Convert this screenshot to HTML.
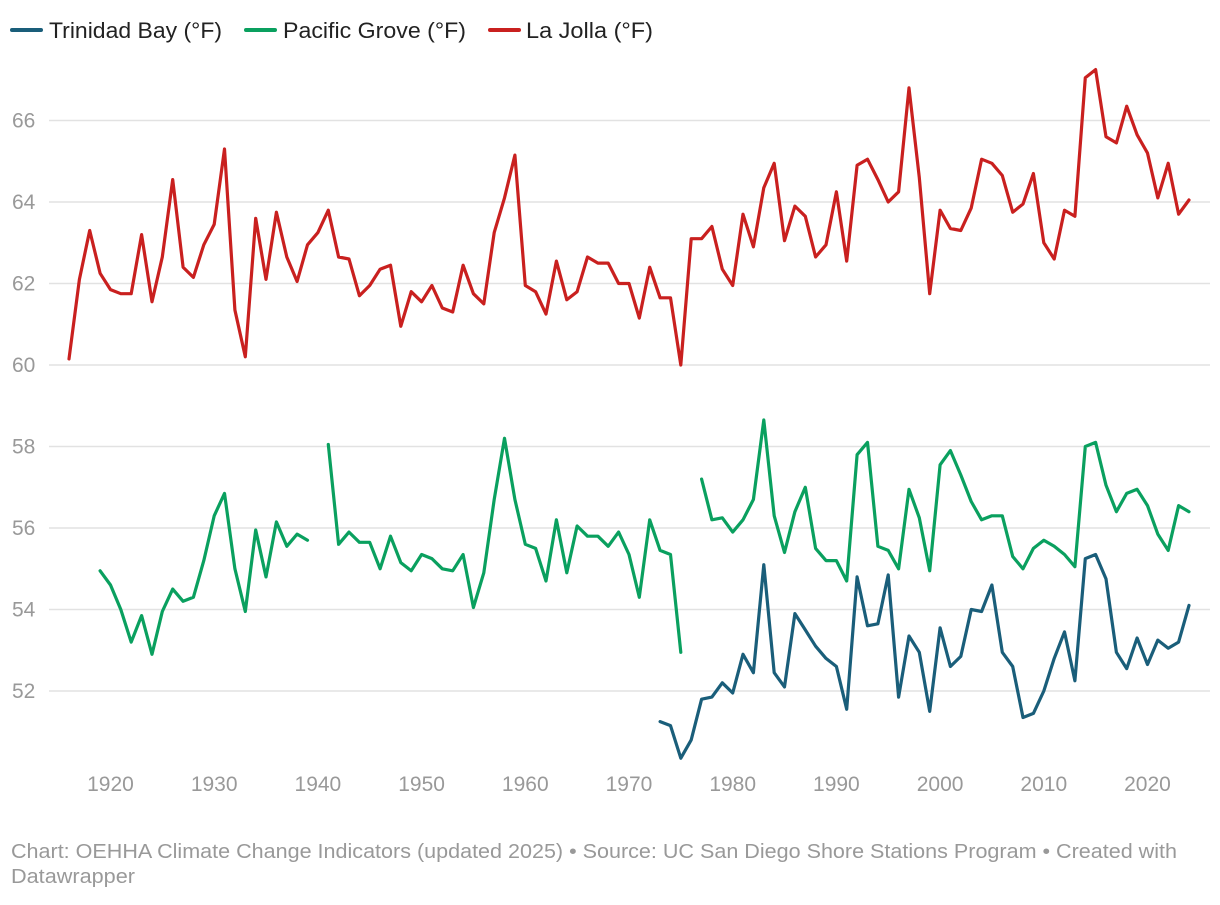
<!DOCTYPE html>
<html><head><meta charset="utf-8"><style>
body{margin:0;background:#fff;width:1220px;height:900px;overflow:hidden;font-family:"Liberation Sans",sans-serif}
</style></head><body>
<svg id="chart" width="1220" height="900">
<g id="legend">
 <g><line x1="12" y1="30" x2="41" y2="30" stroke="#1a5e7a" stroke-width="4" stroke-linecap="round"/><text x="49" y="38" font-size="22" fill="#222" textLength="173" lengthAdjust="spacingAndGlyphs">Trinidad Bay (°F)</text></g>
 <g><line x1="246" y1="30" x2="275" y2="30" stroke="#0aa05f" stroke-width="4" stroke-linecap="round"/><text x="283" y="38" font-size="22" fill="#222" textLength="183" lengthAdjust="spacingAndGlyphs">Pacific Grove (°F)</text></g>
 <g><line x1="490" y1="30" x2="519" y2="30" stroke="#c9201f" stroke-width="4" stroke-linecap="round"/><text x="526" y="38" font-size="22" fill="#222" textLength="127" lengthAdjust="spacingAndGlyphs">La Jolla (°F)</text></g>
</g>
<g id="grid"></g>
<g id="yaxis"></g>
<g id="xaxis"></g>
<g id="series"></g>
<text x="11" y="858" font-size="20" fill="#999" textLength="1166" lengthAdjust="spacingAndGlyphs">Chart: OEHHA Climate Change Indicators (updated 2025) • Source: UC San Diego Shore Stations Program • Created with</text>
<text x="11" y="883" font-size="20" fill="#999" textLength="124" lengthAdjust="spacingAndGlyphs">Datawrapper</text>
</svg>
<script>
const yTicks=[52,54,56,58,60,62,64,66];
const xTicks=[1920,1930,1940,1950,1960,1970,1980,1990,2000,2010,2020];
const laJollaStart=1916;
const laJolla=[60.15,62.1,63.3,62.25,61.85,61.75,61.75,63.2,61.55,62.65,64.55,62.4,62.15,62.95,63.45,65.3,61.35,60.2,63.6,62.1,63.75,62.65,62.05,62.95,63.25,63.8,62.65,62.6,61.7,61.95,62.35,62.45,60.95,61.8,61.55,61.95,61.4,61.3,62.45,61.75,61.5,63.25,64.1,65.15,61.95,61.8,61.25,62.55,61.6,61.8,62.65,62.5,62.5,62.0,62.0,61.15,62.4,61.65,61.65,60.0,63.1,63.1,63.4,62.35,61.95,63.7,62.9,64.35,64.95,63.05,63.9,63.65,62.65,62.95,64.25,62.55,64.9,65.05,64.55,64.0,64.25,66.8,64.6,61.75,63.8,63.35,63.3,63.85,65.05,64.95,64.65,63.75,63.95,64.7,63.0,62.6,63.8,63.65,67.05,67.25,65.6,65.45,66.35,65.65,65.2,64.1,64.95,63.7,64.05];
const pacificStart=1919;
const pacific=[54.95,54.6,54.0,53.2,53.85,52.9,53.95,54.5,54.2,54.3,55.2,56.3,56.85,55.0,53.95,55.95,54.8,56.15,55.55,55.85,55.7,null,58.05,55.6,55.9,55.65,55.65,55.0,55.8,55.15,54.95,55.35,55.25,55.0,54.95,55.35,54.05,54.9,56.7,58.2,56.7,55.6,55.5,54.7,56.2,54.9,56.05,55.8,55.8,55.55,55.9,55.35,54.3,56.2,55.45,55.35,52.95,null,57.2,56.2,56.25,55.9,56.2,56.7,58.65,56.3,55.4,56.4,57.0,55.5,55.2,55.2,54.7,57.8,58.1,55.55,55.45,55.0,56.95,56.25,54.95,57.55,57.9,57.3,56.65,56.2,56.3,56.3,55.3,55.0,55.5,55.7,55.55,55.35,55.05,58.0,58.1,57.05,56.4,56.85,56.95,56.55,55.85,55.45,56.55,56.4];
const trinidadStart=1973;
const trinidad=[51.25,51.15,50.35,50.8,51.8,51.85,52.2,51.95,52.9,52.45,55.1,52.45,52.1,53.9,53.5,53.1,52.8,52.6,51.55,54.8,53.6,53.65,54.85,51.85,53.35,52.95,51.5,53.55,52.6,52.85,54.0,53.95,54.6,52.95,52.6,51.35,51.45,52.0,52.8,53.45,52.25,55.25,55.35,54.75,52.95,52.55,53.3,52.65,53.25,53.05,53.2,54.1];

const NS="http://www.w3.org/2000/svg";
function X(yr){return 69+(yr-1916)*10.37;}
function Y(v){return 365-(v-60)*40.75;}
function mk(t,a,p){const e=document.createElementNS(NS,t);for(const k in a)e.setAttribute(k,a[k]);p.appendChild(e);return e;}
const grid=document.getElementById('grid'),ya=document.getElementById('yaxis'),xa=document.getElementById('xaxis'),ser=document.getElementById('series');
yTicks.forEach(t=>{
 const l=mk('line',{x1:49,x2:1210,y1:Y(t),y2:Y(t),stroke:'#e2e2e2','stroke-width':1.5},grid);
 
 
 const tx=mk('text',{x:12,y:Y(t)+7,'font-size':21,fill:'#999'},ya);tx.textContent=t;
 
 
});
xTicks.forEach(t=>{
 const tx=mk('text',{x:X(t),y:791,'font-size':21,fill:'#999','text-anchor':'middle'},xa);tx.textContent=t;
 
 
});
function draw(arr,start,color,name){
 let d='',pen=false;
 arr.forEach((v,i)=>{if(v==null){pen=false;return;}d+=(pen?'L':'M')+X(start+i).toFixed(1)+','+Y(v).toFixed(1);pen=true;});
 const p=mk('path',{d:d,fill:'none',stroke:color,'stroke-width':3.2,'stroke-linejoin':'round','stroke-linecap':'round'},ser);
 
 
}
draw(trinidad,trinidadStart,'#1a5e7a','line-trinidad-bay');
draw(pacific,pacificStart,'#0aa05f','line-pacific-grove');
draw(laJolla,laJollaStart,'#c9201f','line-la-jolla');
</script>
</body></html>
